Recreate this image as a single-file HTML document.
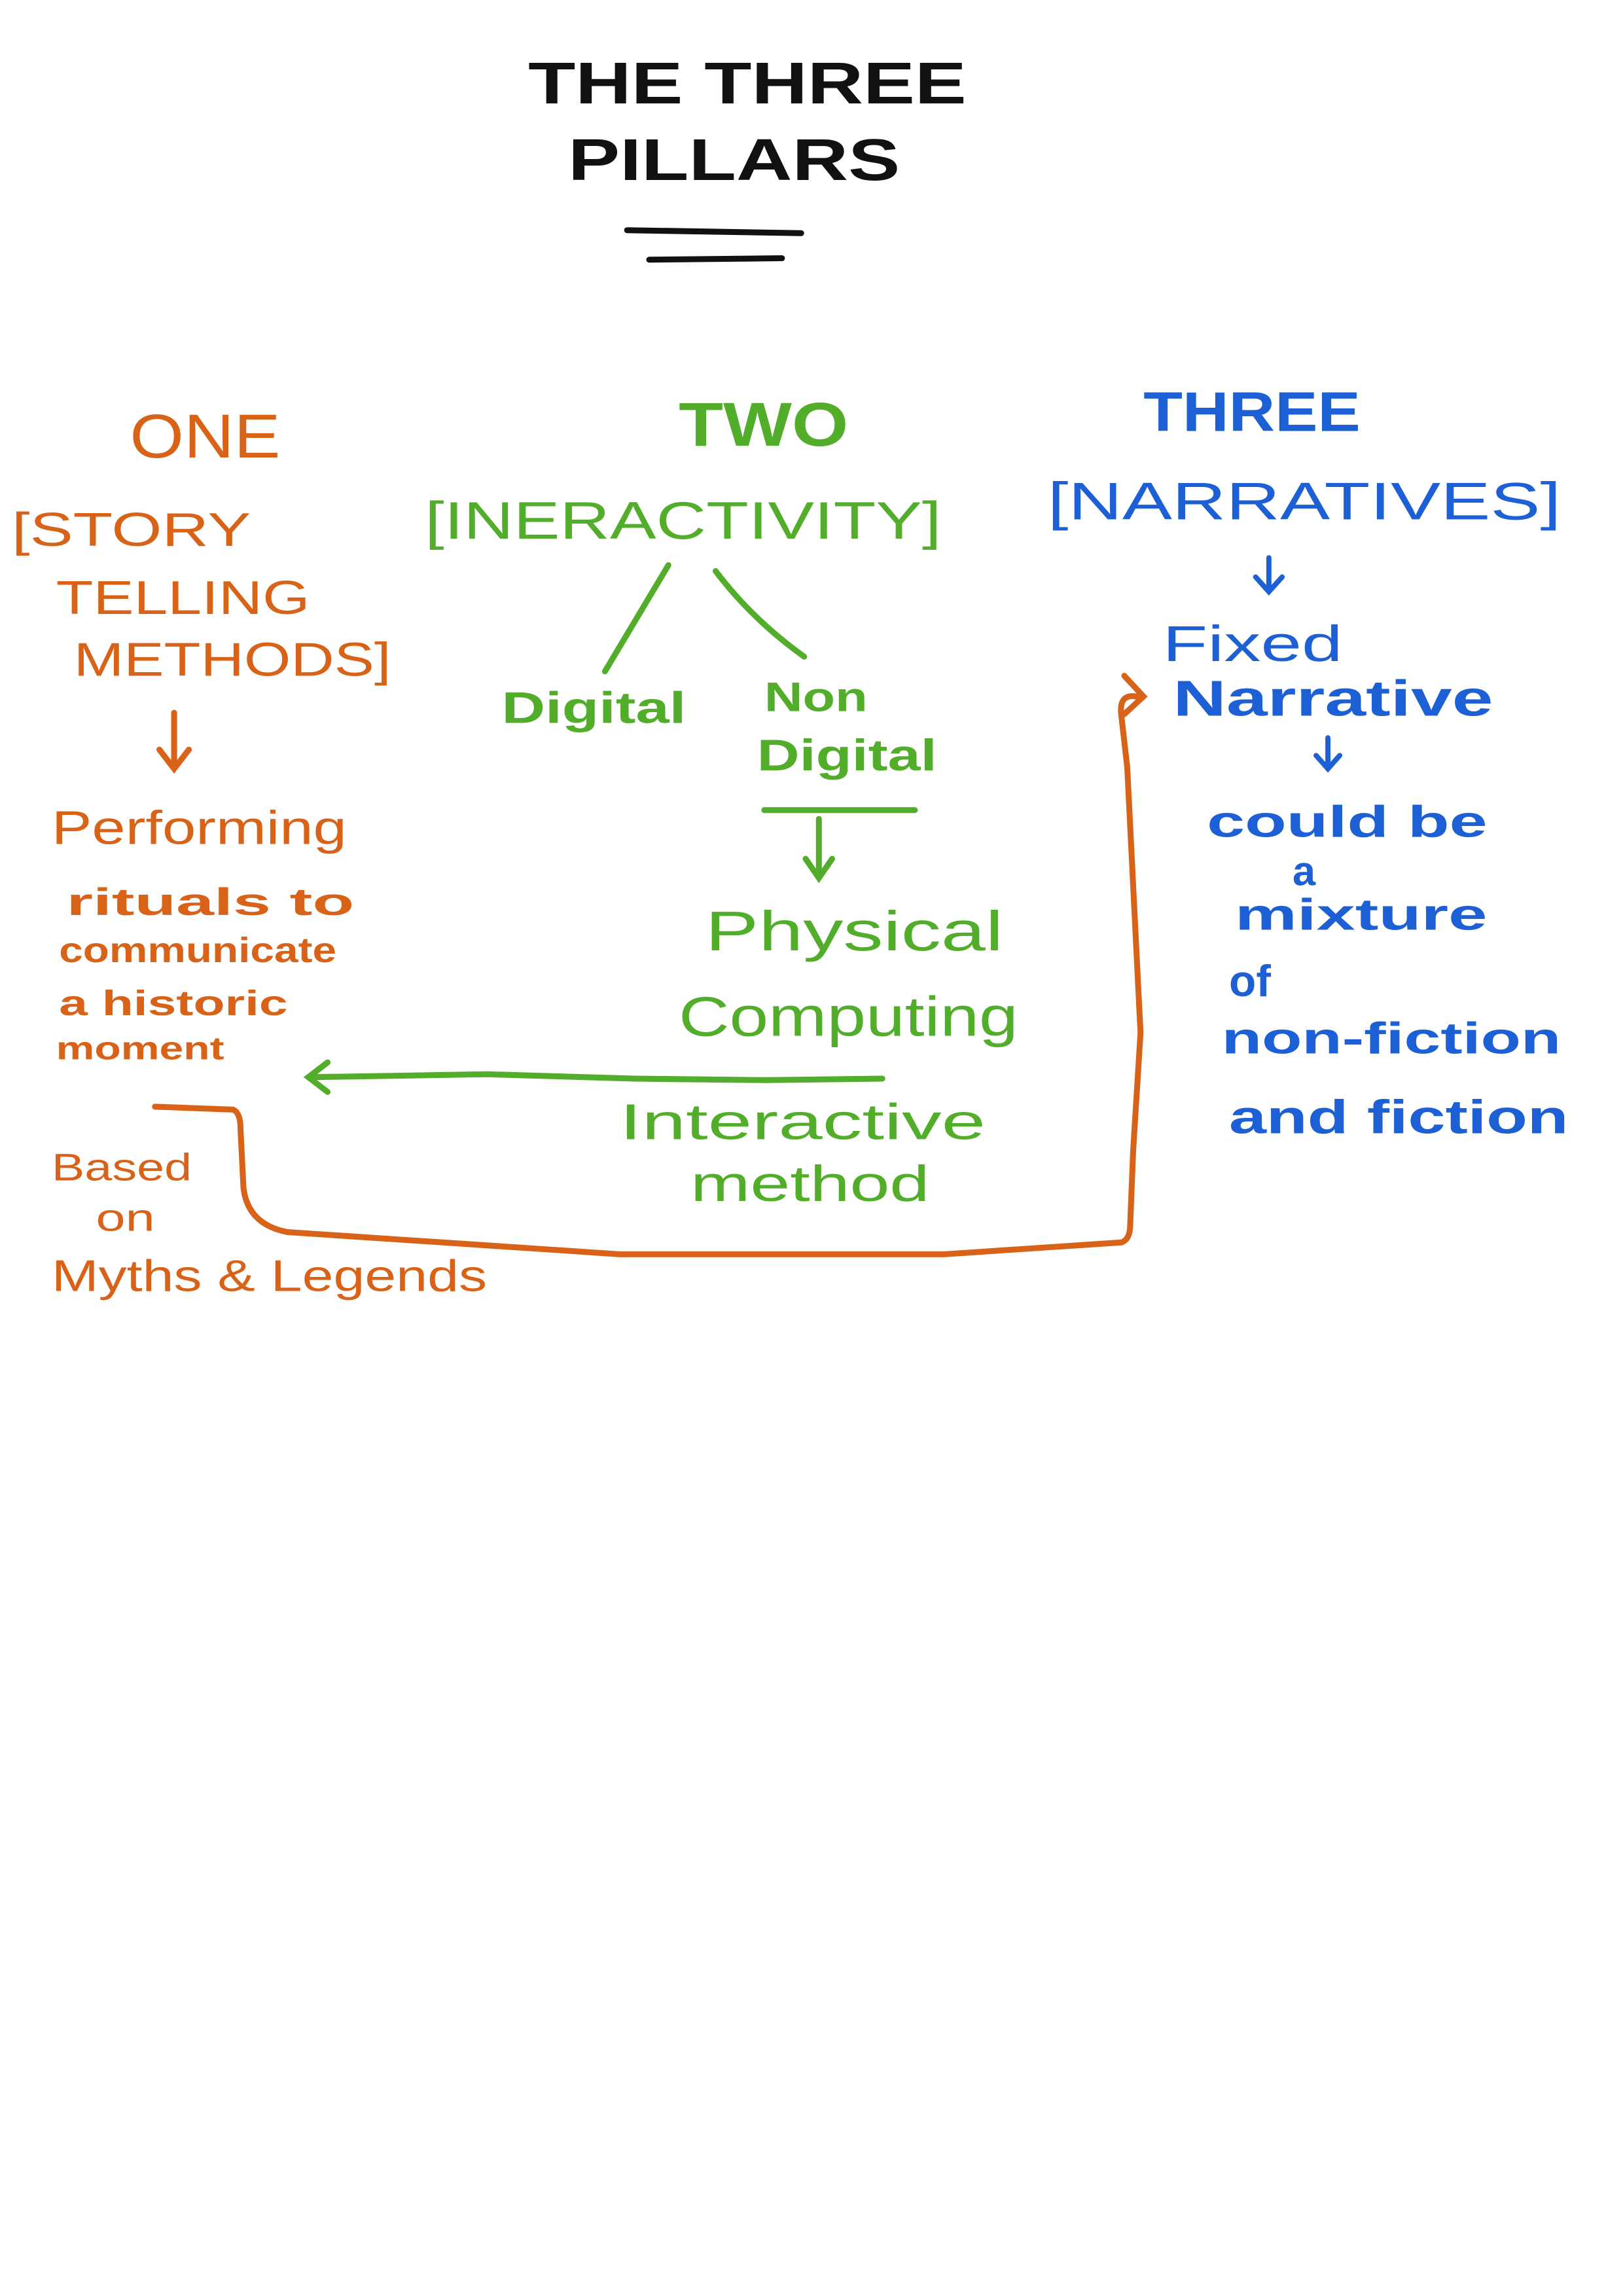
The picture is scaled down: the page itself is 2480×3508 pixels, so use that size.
<!DOCTYPE html>
<html><head><meta charset="utf-8"><style>
html,body{margin:0;padding:0;background:#fff;}
svg{display:block;}
text{font-family:"Liberation Sans",sans-serif;}
</style></head><body>
<svg width="2480" height="3508" viewBox="0 0 1100 1556" xmlns="http://www.w3.org/2000/svg">
<rect width="1100" height="1556" fill="#fff"/>
<!-- Title -->
<g fill="#111" font-weight="bold">
<text x="358" y="70" font-size="40" textLength="297" lengthAdjust="spacingAndGlyphs">THE THREE</text>
<text x="385" y="122" font-size="40" textLength="225" lengthAdjust="spacingAndGlyphs">PILLARS</text>
</g>
<path d="M425 156 L543 158" stroke="#111" stroke-width="4" stroke-linecap="round"/>
<path d="M440 176 L530 175" stroke="#111" stroke-width="4" stroke-linecap="round"/>

<!-- ONE (orange) -->
<g fill="#d86318">
<text x="88" y="310" font-size="42" textLength="102" lengthAdjust="spacingAndGlyphs">ONE</text>
<text x="8" y="370" font-size="32" textLength="162" lengthAdjust="spacingAndGlyphs">[STORY</text>
<text x="38" y="416" font-size="32" textLength="172" lengthAdjust="spacingAndGlyphs">TELLING</text>
<text x="50" y="458" font-size="32" textLength="215" lengthAdjust="spacingAndGlyphs">METHODS]</text>
<text x="35" y="572" font-size="32" textLength="200" lengthAdjust="spacingAndGlyphs">Performing</text>
<text x="45" y="620" font-size="26" font-weight="bold" textLength="195" lengthAdjust="spacingAndGlyphs">rituals to</text>
<text x="40" y="652" font-size="24" font-weight="bold" textLength="188" lengthAdjust="spacingAndGlyphs">communicate</text>
<text x="40" y="688" font-size="24" font-weight="bold" textLength="155" lengthAdjust="spacingAndGlyphs">a historic</text>
<text x="38" y="718" font-size="22" font-weight="bold" textLength="114" lengthAdjust="spacingAndGlyphs">moment</text>
<text x="35" y="800" font-size="26" textLength="95" lengthAdjust="spacingAndGlyphs">Based</text>
<text x="65" y="834" font-size="26" textLength="40" lengthAdjust="spacingAndGlyphs">on</text>
<text x="35" y="875" font-size="30" textLength="295" lengthAdjust="spacingAndGlyphs">Myths &amp; Legends</text>
</g>
<path d="M118 483 L118 520 M108 508 L118 521 L128 508" stroke="#d86318" stroke-width="4" fill="none" stroke-linecap="round"/>
<path d="M105 750 L158 752 Q163 754 163 765 L165 805 Q168 830 195 835 L300 842 L420 850 L530 850 L640 850 L760 842 Q766 840 766 830 L768 780 L773 700 L764 520 L760 485 Q758 470 770 472" stroke="#d86318" stroke-width="4" fill="none" stroke-linecap="round"/>
<path d="M762 458 L775 472 L762 484" stroke="#d86318" stroke-width="4" fill="none" stroke-linecap="round"/>

<!-- TWO (green) -->
<g fill="#52ae2a">
<text x="460" y="302" font-size="42" font-weight="bold" textLength="115" lengthAdjust="spacingAndGlyphs">TWO</text>
<text x="288" y="365" font-size="36" textLength="350" lengthAdjust="spacingAndGlyphs">[INERACTIVITY]</text>
<text x="340" y="490" font-size="30" font-weight="bold" textLength="125" lengthAdjust="spacingAndGlyphs">Digital</text>
<text x="518" y="482" font-size="28" font-weight="bold" textLength="70" lengthAdjust="spacingAndGlyphs">Non</text>
<text x="513" y="522" font-size="30" font-weight="bold" textLength="122" lengthAdjust="spacingAndGlyphs">Digital</text>
<text x="478" y="644" font-size="38" textLength="202" lengthAdjust="spacingAndGlyphs">Physical</text>
<text x="460" y="702" font-size="38" textLength="230" lengthAdjust="spacingAndGlyphs">Computing</text>
<text x="420" y="772" font-size="34" textLength="248" lengthAdjust="spacingAndGlyphs">Interactive</text>
<text x="468" y="814" font-size="34" textLength="162" lengthAdjust="spacingAndGlyphs">method</text>
</g>
<g stroke="#52ae2a" stroke-width="4" fill="none" stroke-linecap="round">
<path d="M453 383 L410 455"/>
<path d="M485 387 Q510 420 545 445"/>
<path d="M518 549 L620 549"/>
<path d="M555 555 L555 594 M546 582 L555 595 L564 582"/>
<path d="M598 731 L520 732 L430 731 L330 728 L210 730"/>
<path d="M222 720 L209 730 L222 740"/>
</g>

<!-- THREE (blue) -->
<g fill="#1d5fd4">
<text x="775" y="292" font-size="38" font-weight="bold" textLength="147" lengthAdjust="spacingAndGlyphs">THREE</text>
<text x="710" y="352" font-size="36" textLength="348" lengthAdjust="spacingAndGlyphs">[NARRATIVES]</text>
<text x="788" y="448" font-size="34" textLength="122" lengthAdjust="spacingAndGlyphs">Fixed</text>
<text x="795" y="485" font-size="34" font-weight="bold" textLength="217" lengthAdjust="spacingAndGlyphs">Narrative</text>
<text x="818" y="567" font-size="30" font-weight="bold" textLength="190" lengthAdjust="spacingAndGlyphs">could be</text>
<text x="876" y="600" font-size="28" font-weight="bold">a</text>
<text x="837" y="630" font-size="30" font-weight="bold" textLength="171" lengthAdjust="spacingAndGlyphs">mixture</text>
<text x="833" y="675" font-size="30" font-weight="bold">of</text>
<text x="828" y="714" font-size="30" font-weight="bold" textLength="230" lengthAdjust="spacingAndGlyphs">non-fiction</text>
<text x="833" y="768" font-size="32" font-weight="bold" textLength="230" lengthAdjust="spacingAndGlyphs">and fiction</text>
</g>
<g stroke="#1d5fd4" stroke-width="3.5" fill="none" stroke-linecap="round">
<path d="M860 378 L860 400 M851 391 L860 401 L869 391"/>
<path d="M900 500 L900 520 M892 512 L900 521 L908 512"/>
</g>
</svg>
</body></html>
